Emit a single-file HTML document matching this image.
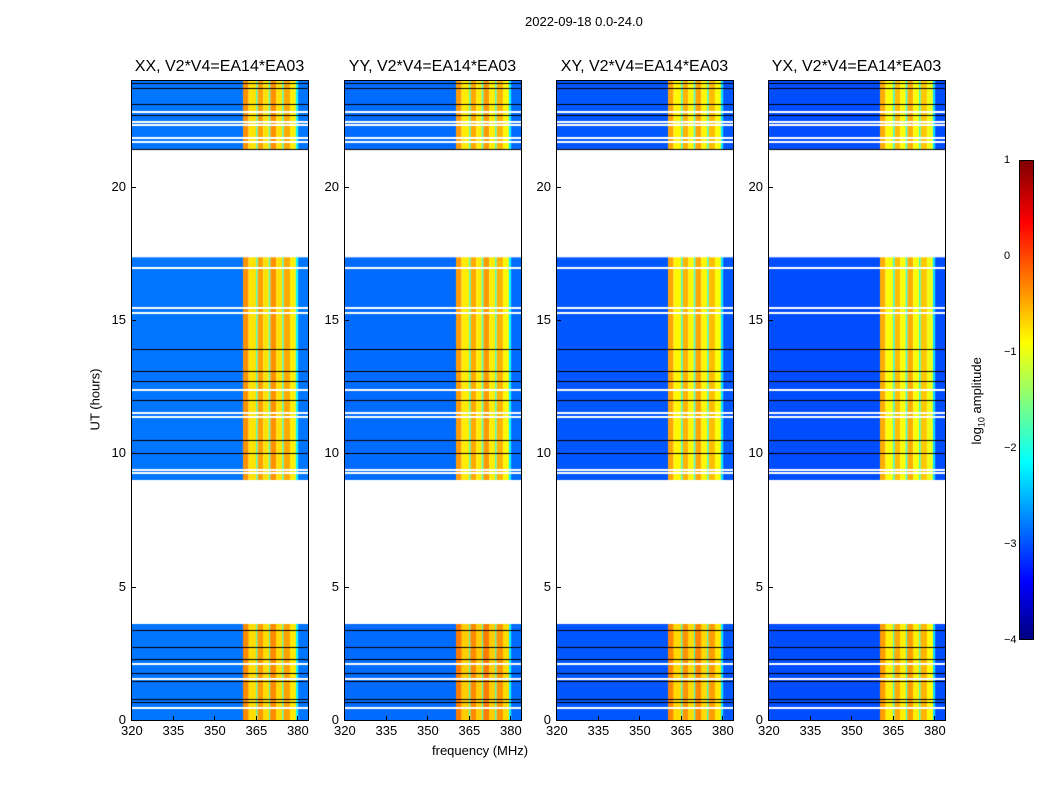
<!DOCTYPE html>
<html><head><meta charset="utf-8">
<style>
body{margin:0;background:#fff;font-family:"Liberation Sans",sans-serif;}
#wrap{position:relative;width:1050px;height:800px;overflow:hidden;background:#fff}
.t{position:absolute;font-size:13px;color:#000;white-space:nowrap}
.pt{position:absolute;font-size:16px;text-align:center;width:240px}
canvas{position:absolute}
.frame{position:absolute;border:1px solid #000;box-sizing:border-box}
</style></head><body>
<div id="wrap">
<div class="t" style="left:525px;top:14px">2022-09-18 0.0-24.0</div>
<div class="t" style="left:432px;top:743px">frequency (MHz)</div>
<div class="t" style="left:64px;top:392px;transform:rotate(-90deg)">UT (hours)</div>
<div class="t" style="left:934px;top:392px;transform:rotate(-90deg)">log<sub style="font-size:9px">10</sub> amplitude</div>
<div id="cbar" style="position:absolute;left:1019px;top:160px;width:15px;height:480px;border:1px solid #000;box-sizing:border-box;background:linear-gradient(to top,#00007f,#0000ff 12%,#00ffff 37%,#ffff00 62%,#ff0000 87%,#7f0000)"></div>
</div>
<script>
// ---- data ----
const panels = ["XX","YY","XY","YX"];
const panelBg = [-2.8,-2.85,-2.95,-3.0];
const panelBand = [-0.45,-0.5,-0.55,-0.6];
const panelBoost = [0.1,0.5,0.5,0.3];
// frequency segments [f0,f1,relative level: 0 = background, 1 = band]
const freqSegs = [[320,360.5,0],[360.5,362.5,1.05],[362.5,365.2,0.88],[365.2,365.8,0.45],[365.8,367.8,1.02],[367.8,369.8,0.88],[369.8,370.4,0.45],[370.4,372.5,1.05],[372.5,374.6,0.88],[374.6,375.2,0.45],[375.2,377.5,1.0],[377.5,379.6,0.85],[379.6,380.4,0.3],[380.4,384,0]];
// time data blocks [t0,t1]
const dataBlocks = [[0,3.6],[9.0,17.35],[21.4,24]];
// flagged lines [hour, kind] k=black, w=white
const flagLines = [[3.37,"k"],[2.74,"k"],[2.28,"k"],[2.13,"w"],[1.76,"k"],[1.57,"w"],[1.46,"k"],[0.79,"k"],[0.68,"k"],[0.5,"w"],
 [23.87,"k"],[23.7,"k"],[23.1,"k"],[22.85,"w"],[22.7,"k"],[22.45,"w"],[22.35,"w"],[21.85,"w"],[21.7,"w"],[21.42,"k"],
 [17.0,"w"],[15.5,"w"],[15.3,"w"],[13.9,"k"],[13.1,"k"],[12.7,"k"],[12.4,"w"],[12.0,"k"],[11.55,"w"],[11.4,"w"],[10.5,"k"],[10.0,"k"],[9.4,"w"],[9.3,"w"]];
// band boost by time [t0,t1,boost]
const boostSegs = [[2.2,2.6,1.0],[2.9,3.4,0.6],[0,3.6,0.3]];
const xTicks = [320,335,350,365,380];
const yTicks = [0,5,10,15,20];
const cbTicks = [1,0,-1,-2,-3,-4];
// ---- layout ----
const lefts=[131,344,556,768], W=177, TOP=80, H=640;
const xS=f=>(f-320)*(166/60);
const yS=h=>H-h*(H/24);
const jet=v=>{let t=Math.max(0,Math.min(1,(v+4)/5));const c=x=>Math.round(255*Math.max(0,Math.min(1,1.5-Math.abs(x))));return `rgb(${c(4*t-3)},${c(4*t-2)},${c(4*t-1)})`;};
const wrap=document.getElementById('wrap');
panels.forEach((p,i)=>{
  const L=lefts[i];
  const cv=document.createElement('canvas');cv.width=W;cv.height=H;cv.style.left=L+'px';cv.style.top=TOP+'px';
  
  
  wrap.appendChild(cv);
  const g=cv.getContext('2d');
  dataBlocks.forEach(b=>{
    freqSegs.forEach(s=>{
      const v=panelBg[i]+s[2]*(panelBand[i]-panelBg[i]);
      g.fillStyle=jet(v);
      g.fillRect(xS(s[0]),yS(b[1]),xS(s[1])-xS(s[0]),yS(b[0])-yS(b[1]));
    });
  });
  boostSegs.forEach(bs=>{
    freqSegs.forEach(s=>{ if(s[2]<0.8)return;
      const v=panelBg[i]+s[2]*(panelBand[i]-panelBg[i])+panelBoost[i]*bs[2];
      g.fillStyle=jet(v);
      g.fillRect(xS(s[0]),yS(bs[1]),xS(s[1])-xS(s[0]),yS(bs[0])-yS(bs[1]));
    });
  });
  flagLines.forEach(l=>{g.fillStyle=l[1]=="k"?"#000":"#fff";g.fillRect(0,Math.round(yS(l[0])),W,l[1]=="k"?1:2);});
  const fr=document.createElement('div');fr.className='frame';
  fr.style.cssText=`left:${L}px;top:${TOP}px;width:${W+1}px;height:${H+1}px`;
  
  
  wrap.appendChild(fr);
  const tt=document.createElement('div');tt.className='pt';tt.textContent=p+', V2*V4=EA14*EA03';
  tt.style.left=(L+W/2-120)+'px';tt.style.top='58px';
  
  
  wrap.appendChild(tt);
  xTicks.forEach(f=>{
    const d=document.createElement('div');d.className='t';d.textContent=f;
    d.style.left=(L+xS(f)-10)+'px';d.style.top='723px';
    
    
    wrap.appendChild(d);
    const tk=document.createElement('div');tk.style.cssText=`position:absolute;left:${L+xS(f)}px;top:${TOP+H-4}px;width:1px;height:4px;background:#000`;
    
    
    wrap.appendChild(tk);
  });
  yTicks.forEach(h=>{
    const d=document.createElement('div');d.className='t';d.textContent=h;d.style.textAlign='right';d.style.width='20px';
    d.style.left=(L-25)+'px';d.style.top=(TOP+yS(h)-8)+'px';
    
    
    wrap.appendChild(d);
    const tk=document.createElement('div');tk.style.cssText=`position:absolute;left:${L}px;top:${TOP+yS(h)}px;width:5px;height:1px;background:#000`;
    
    
    wrap.appendChild(tk);
  });
});
cbTicks.forEach(v=>{
  const y=160+(1-v)*96;
  const d=document.createElement('div');d.className='t';d.style.fontSize='11px';
  d.textContent=v<0?'\u2212'+(-v):v;
  d.style.left='1004px';d.style.top=(y-6)+'px';
  
  
  wrap.appendChild(d);
});
</script>
</body></html>
